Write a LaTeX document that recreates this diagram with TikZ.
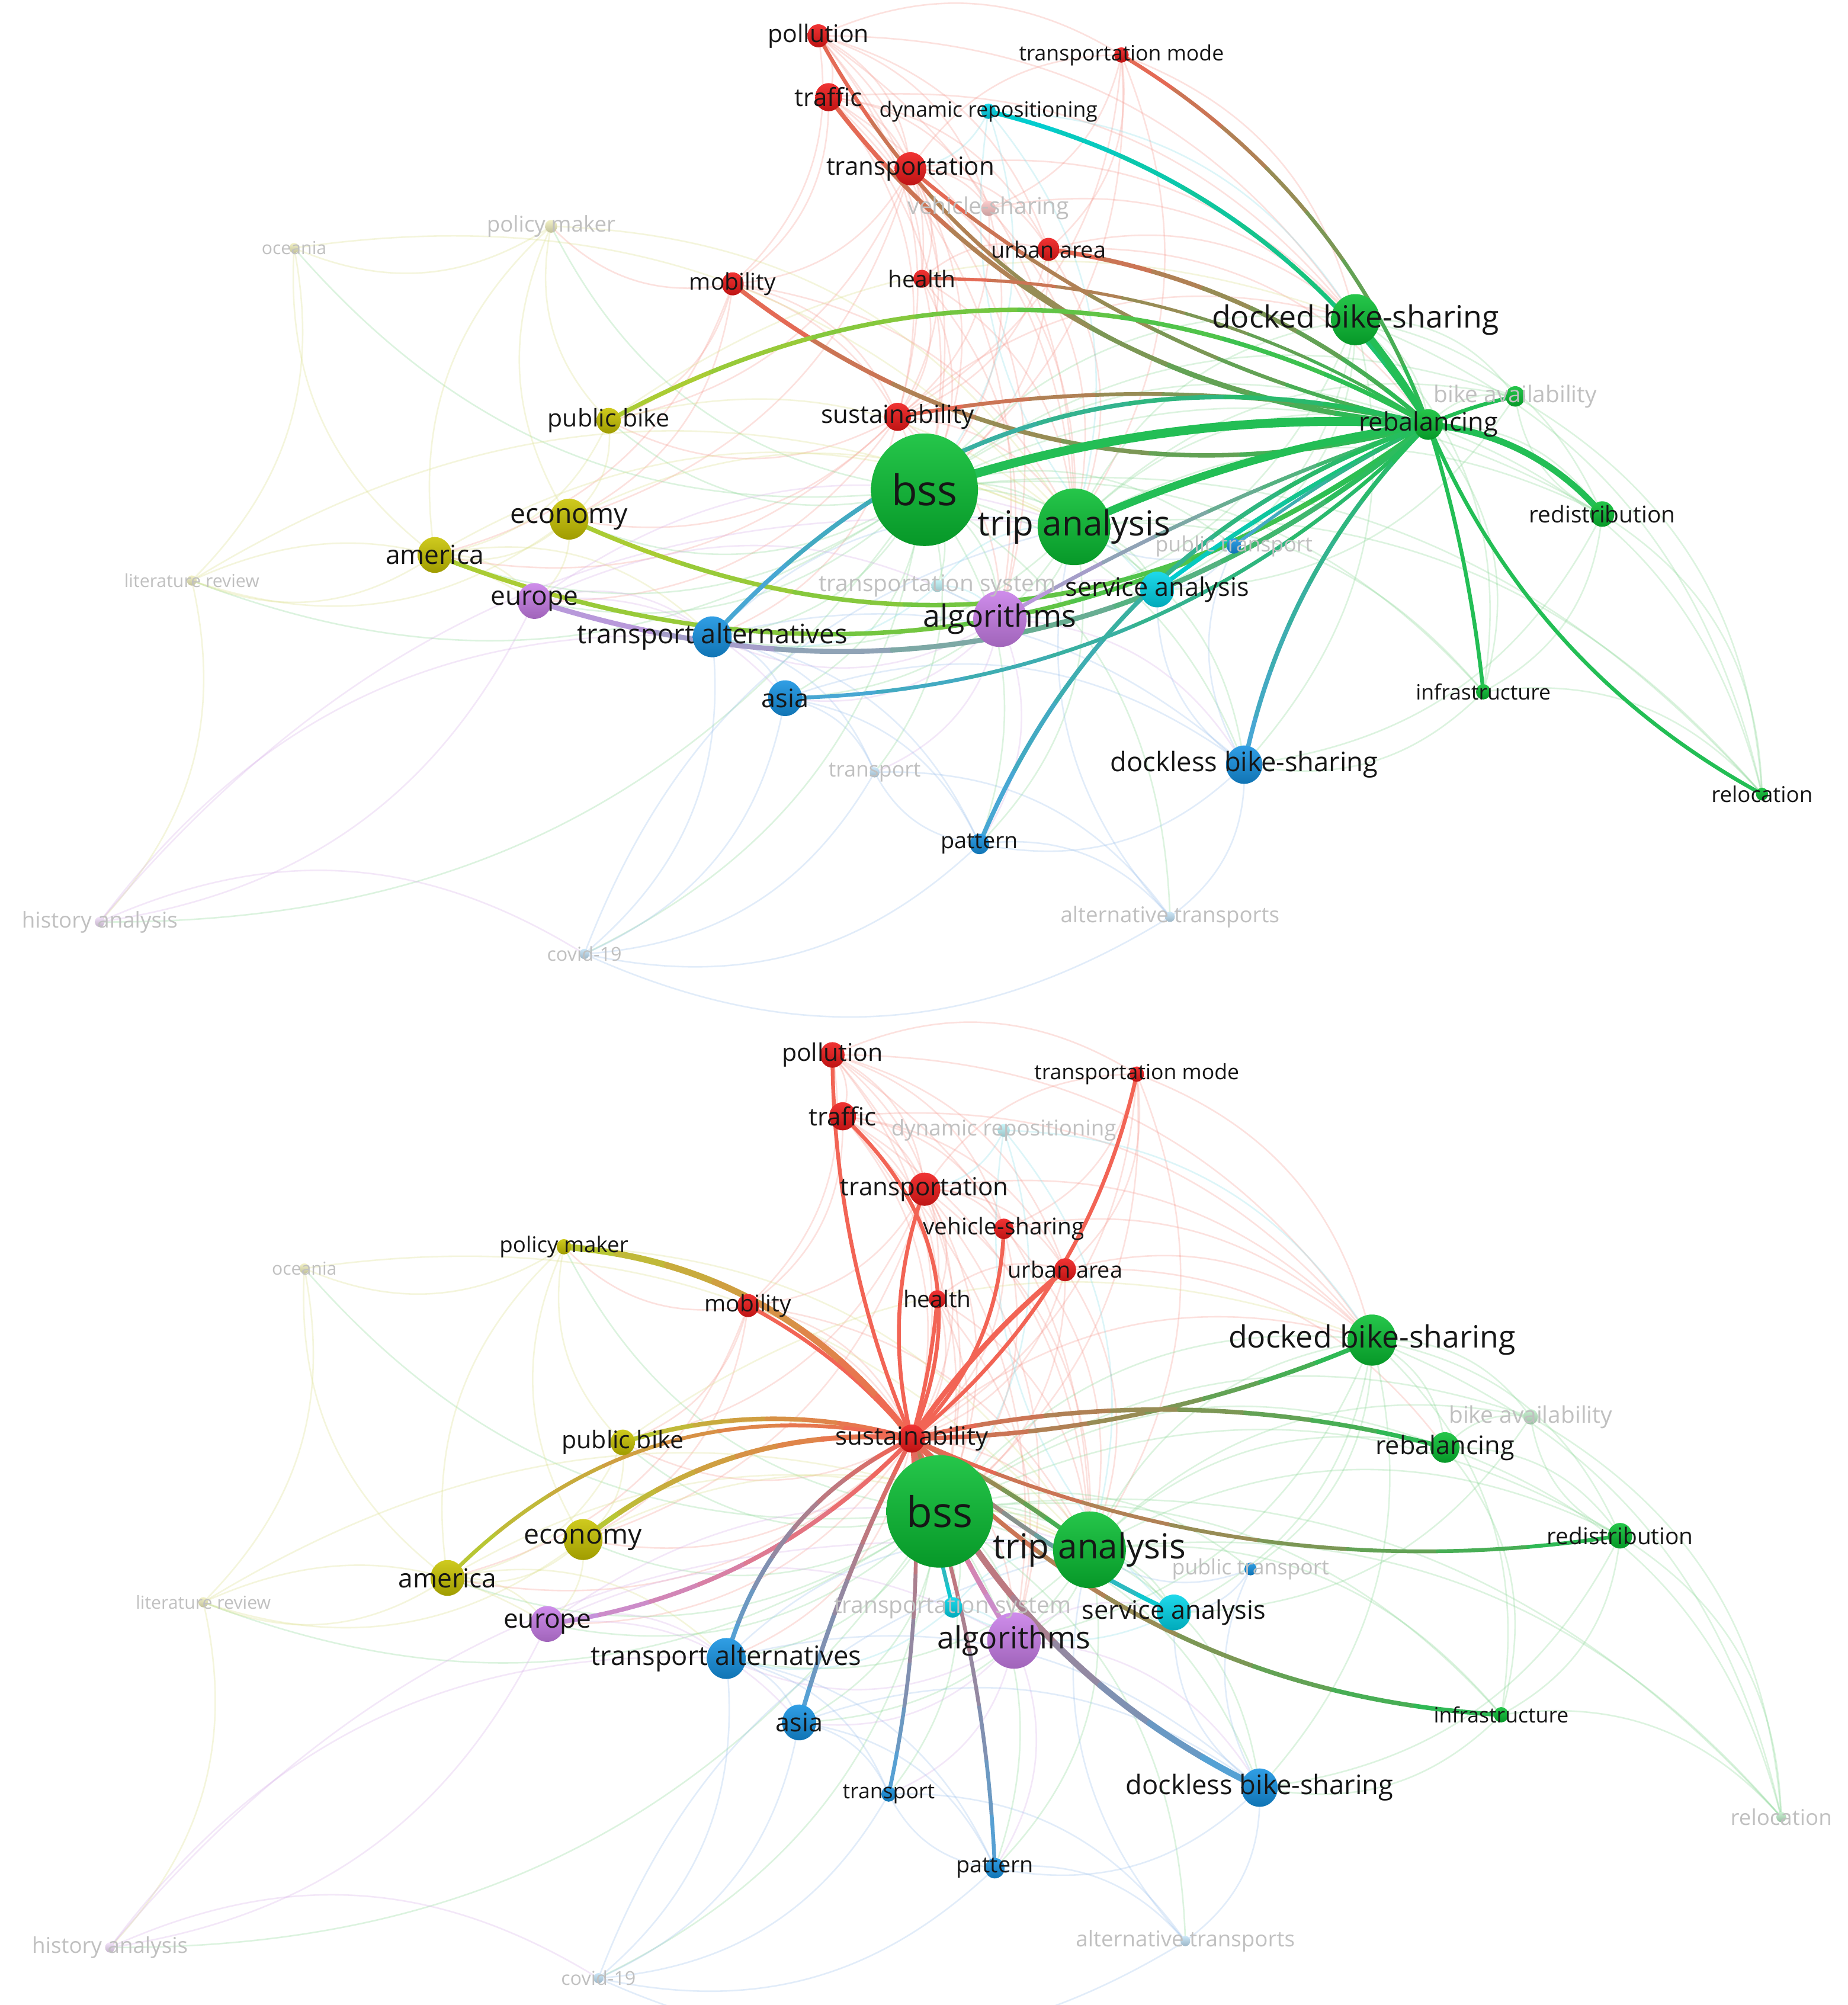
\documentclass[tikz,border=0pt]{standalone}
\usepackage{fontspec}
\setmainfont{Open Sans}
\usetikzlibrary{calc,shapes.geometric}
\pgfdeclarelayer{back}\pgfdeclarelayer{bg}\pgfdeclarelayer{fg}
\pgfsetlayers{back,bg,main,fg}
\definecolor{cR}{RGB}{238,24,24}
\definecolor{cG}{RGB}{8,190,50}
\definecolor{cB}{RGB}{20,145,225}
\definecolor{cY}{RGB}{200,195,0}
\definecolor{cP}{RGB}{200,125,232}
\definecolor{cC}{RGB}{0,212,232}
\definecolor{eR}{RGB}{242,100,85}
\definecolor{eG}{RGB}{35,190,85}
\definecolor{eB}{RGB}{75,165,220}
\definecolor{eY}{RGB}{180,205,50}
\definecolor{eP}{RGB}{195,150,228}
\definecolor{eC}{RGB}{0,205,215}
\definecolor{fR}{RGB}{245,140,130}
\definecolor{fG}{RGB}{120,210,135}
\definecolor{fB}{RGB}{140,185,235}
\definecolor{fY}{RGB}{215,220,120}
\definecolor{fP}{RGB}{210,165,230}
\definecolor{fC}{RGB}{120,220,230}
\definecolor{tk}{RGB}{22,22,22}
\definecolor{tg}{RGB}{192,192,192}
\tikzset{
  kwnode/.style={ellipse, inner sep=0pt, draw=none},
  kwlabel/.style={inner sep=0pt, anchor=center},
  fe/.style={line width=1.2pt, opacity=0.26},
}
\newcommand\kw[9]{%
  \node[kwnode, minimum width=1.9*#5pt, minimum height=2*#5pt, top color=#6!88!white, bottom color=#6!80!black] (#1-#2) at (#3,#4) {};
  \begin{pgfonlayer}{fg}
  \node[kwlabel, text=#9, font=\fontsize{#8}{#8}\selectfont] (#1-#2-l) at (#3,#4) {#7};
  \end{pgfonlayer}}
\newcommand\hedge[6]{%
  \coordinate (hA) at (#1.center);
  \coordinate (hB) at (#2.center);
  \coordinate (hC) at ($(hA)!0.5!(hB)!#3!90:(hB)$);
  \foreach \k in {0,...,7}{%
    \pgfmathsetmacro\ta{\k/8}%
    \pgfmathsetmacro\tb{(\k+1)/8}%
    \pgfmathsetmacro\aA{(1-\ta)*(1-\ta)}%
    \pgfmathsetmacro\aC{2*\ta*(1-\ta)}%
    \pgfmathsetmacro\aB{\ta*\ta}%
    \pgfmathsetmacro\qA{(1-\ta)*(1-\tb)}%
    \pgfmathsetmacro\qC{(1-\ta)*\tb+\ta*(1-\tb)}%
    \pgfmathsetmacro\qB{\ta*\tb}%
    \pgfmathsetmacro\bA{(1-\tb)*(1-\tb)}%
    \pgfmathsetmacro\bC{2*\tb*(1-\tb)}%
    \pgfmathsetmacro\bB{\tb*\tb}%
    \pgfmathtruncatemacro\pc{100-100*(\k+0.5)/8}%
    \coordinate (s0) at ($\aA*(hA)+\aC*(hC)+\aB*(hB)$);
    \coordinate (sq) at ($\qA*(hA)+\qC*(hC)+\qB*(hB)$);
    \coordinate (s1) at ($\bA*(hA)+\bC*(hC)+\bB*(hB)$);
    \draw[line width=#6pt, line cap=round, draw=#4!\pc!#5]
      (s0) .. controls ($(s0)!0.6667!(sq)$) and ($(s1)!0.6667!(sq)$) .. (s1);
  }}
\newcommand\faintedges[1]{%
  \foreach \a/\b/\c in {pol/tra/fR, pol/trn/fR, pol/sus/fR, pol/bss/fR, pol/mob/fR, pol/hea/fR, pol/urb/fR, pol/tmo/fR, pol/veh/fR, pol/tri/fR, pol/doc/fR,
    tra/trn/fR, tra/sus/fR, tra/bss/fR, tra/mob/fR, tra/hea/fR, tra/urb/fR, tra/veh/fR, tra/tri/fR, tra/alg/fR, tra/doc/fR,
    trn/sus/fR, trn/bss/fR, trn/mob/fR, trn/hea/fR, trn/urb/fR, trn/veh/fR, trn/tmo/fR, trn/tri/fR, trn/doc/fR, trn/pub/fR, trn/eco/fR, trn/alg/fR,
    tmo/sus/fR, tmo/bss/fR, tmo/urb/fR, tmo/doc/fR, tmo/veh/fR, tmo/tri/fR,
    mob/sus/fR, mob/bss/fR, mob/pm/fR, mob/pub/fR, mob/eco/fR, mob/ame/fR, mob/tri/fR,
    hea/sus/fR, hea/bss/fR, hea/urb/fR, hea/tri/fR, hea/alg/fR, urb/sus/fR, urb/bss/fR, urb/doc/fR, urb/tri/fR, urb/reb/fR,
    veh/bss/fR, veh/sus/fR, veh/doc/fR, veh/tri/fR, sus/bss/fR, sus/tri/fR, sus/alg/fR, sus/eco/fR, sus/pub/fR, sus/tal/fR, sus/doc/fR, sus/ame/fR, sus/eur/fR,
    bss/tri/fG, bss/doc/fG, bss/reb/fG, bss/alg/fG, bss/tal/fG, bss/eco/fG, bss/ame/fG, bss/eur/fG, bss/asi/fG, bss/dls/fG, bss/pat/fG, bss/ser/fG, bss/red/fG,
    bss/inf/fG, bss/pub/fG, bss/lit/fG, bss/oce/fG, bss/his/fG, bss/cov/fG, bss/tsp/fG, bss/alt/fG, bss/ptr/fG, bss/tsy/fG, bss/bav/fG, bss/rel/fG, bss/pm/fG,
    tri/doc/fG, tri/alg/fG, tri/dls/fG, tri/ser/fG, tri/red/fG, tri/bav/fG, tri/inf/fG, tri/pat/fG, tri/asi/fG, tri/tal/fG, tri/reb/fG, tri/rel/fG,
    doc/reb/fG, doc/red/fG, doc/bav/fG, doc/alg/fG, doc/dls/fG, doc/ser/fG, doc/inf/fG, doc/rel/fG, doc/ptr/fG,
    reb/red/fG, reb/bav/fG, reb/inf/fG, reb/rel/fG, red/inf/fG, red/bav/fG, red/rel/fG, red/dls/fG, inf/rel/fG, inf/dls/fG, bav/rel/fG, bav/ser/fG,
    pub/eco/fY, pub/ame/fY, pub/pm/fY, pub/tri/fY, pub/doc/fY, eco/ame/fY, eco/tri/fY, eco/pm/fY, eco/lit/fY, eco/eur/fY,
    ame/eur/fY, ame/pm/fY, ame/lit/fY, ame/oce/fY, ame/tri/fY, ame/tal/fY, pm/oce/fY, pm/tri/fY, oce/tri/fY, oce/lit/fY, lit/tri/fY, lit/eur/fY, lit/his/fY,
    eur/tal/fP, eur/alg/fP, eur/tri/fP, eur/his/fP, eur/asi/fP, alg/tal/fP, alg/dls/fP, alg/ser/fP, alg/pat/fP, alg/asi/fP, alg/tsp/fP, his/tal/fP, his/tri/fP, his/cov/fP,
    tal/asi/fB, tal/tri/fB, tal/dls/fB, tal/pat/fB, tal/tsp/fB, tal/cov/fB, asi/dls/fB, asi/pat/fB, asi/tsp/fB, asi/cov/fB, dls/ser/fB, dls/pat/fB, dls/alt/fB,
    dls/ptr/fB, pat/tsp/fB, pat/alt/fB, pat/cov/fB, tsp/cov/fB, tsp/alt/fB, alt/tri/fB, alt/cov/fB, cov/tri/fB, ptr/tri/fB, ptr/ser/fB,
    ser/tsy/fC, ser/dyn/fC, dyn/trn/fC, dyn/tri/fC, dyn/bss/fC, dyn/doc/fC, tsy/tri/fC, tsy/alg/fC, tsy/tal/fC}{%
    \draw[fe, draw=\c] (#1-\a.center) to[bend left=28] (#1-\b.center);
  }}
\begin{document}
\begin{tikzpicture}[x=1pt,y=-1pt]
\useasboundingbox (0,0) rectangle (1445,1568);
\begin{pgfonlayer}{back}
\fill[white] (0,0) rectangle (1445,1568);
\end{pgfonlayer}
% ---------------- top panel ----------------
\kw{T}{pol}{640}{28}{9}{cR}{pollution}{19}{tk}
\kw{T}{tra}{648}{76}{11}{cR}{traffic}{19.5}{tk}
\kw{T}{tmo}{877}{43}{6}{cR}{transportation mode}{16.5}{tk}
\kw{T}{dyn}{773}{87}{6}{cC}{dynamic repositioning}{16.5}{tk}
\kw{T}{trn}{712}{132}{13}{cR}{transportation}{19.5}{tk}
\kw{T}{veh}{773}{163}{6}{cR!25!white}{vehicle-sharing}{18}{tg}
\kw{T}{pm}{431}{177}{5}{cY!25!white}{policy maker}{17}{tg}
\kw{T}{oce}{230}{194}{4}{cY!25!white}{oceania}{14}{tg}
\kw{T}{urb}{820}{195}{9}{cR}{urban area}{17.5}{tk}
\kw{T}{hea}{721}{218}{7}{cR}{health}{18}{tk}
\kw{T}{mob}{573}{222}{9}{cR}{mobility}{18}{tk}
\kw{T}{doc}{1060}{250}{20}{cG}{docked bike-sharing}{24}{tk}
\kw{T}{bav}{1185}{310}{8}{cG}{bike availability}{18}{tg}
\kw{T}{reb}{1117}{332}{12}{cG}{rebalancing}{20}{tk}
\kw{T}{pub}{476}{329}{10}{cY}{public bike}{19}{tk}
\kw{T}{sus}{702}{326}{11}{cR}{sustainability}{19.5}{tk}
\kw{T}{bss}{723}{383}{44}{cG}{bss}{33}{tk}
\kw{T}{red}{1253}{402}{10}{cG}{redistribution}{18}{tk}
\kw{T}{eco}{445}{406}{16}{cY}{economy}{21.5}{tk}
\kw{T}{tri}{840}{412}{30}{cG}{trip analysis}{27}{tk}
\kw{T}{ame}{340}{434}{14}{cY}{america}{20.5}{tk}
\kw{T}{lit}{150}{454}{4}{cY!25!white}{literature review}{14}{tg}
\kw{T}{ptr}{965}{427}{6}{cB}{public transport}{16.5}{tg}
\kw{T}{tsy}{733}{458}{5}{cC!25!white}{transportation system}{18}{tg}
\kw{T}{ser}{905}{461}{14}{cC}{service analysis}{20}{tk}
\kw{T}{eur}{418}{470}{14}{cP}{europe}{20.5}{tk}
\kw{T}{alg}{782}{484}{22}{cP}{algorithms}{24}{tk}
\kw{T}{tal}{557}{498}{16}{cB}{transport alternatives}{21}{tk}
\kw{T}{inf}{1160}{541}{6}{cG}{infrastructure}{16.5}{tk}
\kw{T}{asi}{614}{546}{14}{cB}{asia}{20}{tk}
\kw{T}{dls}{973}{598}{15}{cB}{dockless bike-sharing}{21}{tk}
\kw{T}{tsp}{684}{604}{4}{cB!25!white}{transport}{16.5}{tg}
\kw{T}{rel}{1378}{621}{5}{cG}{relocation}{17}{tk}
\kw{T}{pat}{766}{660}{8}{cB}{pattern}{17.5}{tk}
\kw{T}{alt}{915}{717}{4}{cB!25!white}{alternative transports}{17}{tg}
\kw{T}{his}{78}{721}{4}{cP!25!white}{history analysis}{17}{tg}
\kw{T}{cov}{457}{746}{4}{cB!25!white}{covid-19}{15}{tg}
% ---------------- bottom panel ----------------
\kw{B}{pol}{651}{825}{10}{cR}{pollution}{19}{tk}
\kw{B}{tra}{659}{873}{11}{cR}{traffic}{19.5}{tk}
\kw{B}{tmo}{889}{840}{6}{cR}{transportation mode}{16.5}{tk}
\kw{B}{dyn}{785}{884}{5}{cC!25!white}{dynamic repositioning}{17}{tg}
\kw{B}{trn}{723}{930}{13}{cR}{transportation}{19.5}{tk}
\kw{B}{veh}{785}{961}{8}{cR}{vehicle-sharing}{18}{tk}
\kw{B}{pm}{441}{975}{6}{cY}{policy maker}{17}{tk}
\kw{B}{oce}{238}{992}{4}{cY!25!white}{oceania}{14}{tg}
\kw{B}{urb}{833}{993}{9}{cR}{urban area}{17.5}{tk}
\kw{B}{hea}{733}{1016}{7}{cR}{health}{18}{tk}
\kw{B}{mob}{585}{1021}{9}{cR}{mobility}{18}{tk}
\kw{B}{doc}{1073}{1048}{20}{cG}{docked bike-sharing}{24}{tk}
\kw{B}{bav}{1197}{1108}{6}{cG!25!white}{bike availability}{18}{tg}
\kw{B}{reb}{1130}{1132}{12}{cG}{rebalancing}{20}{tk}
\kw{B}{pub}{487}{1128}{10}{cY}{public bike}{19}{tk}
\kw{B}{sus}{713}{1125}{11}{cR}{sustainability}{19.5}{tk}
\kw{B}{bss}{735}{1182}{44}{cG}{bss}{33}{tk}
\kw{B}{red}{1267}{1201}{10}{cG}{redistribution}{18}{tk}
\kw{B}{eco}{456}{1204}{16}{cY}{economy}{21.5}{tk}
\kw{B}{tri}{852}{1212}{30}{cG}{trip analysis}{27}{tk}
\kw{B}{ame}{350}{1234}{14}{cY}{america}{20.5}{tk}
\kw{B}{lit}{159}{1253}{4}{cY!25!white}{literature review}{14}{tg}
\kw{B}{ptr}{978}{1227}{5}{cB}{public transport}{16.5}{tg}
\kw{B}{tsy}{745}{1257}{8}{cC}{transportation system}{18}{tg}
\kw{B}{ser}{918}{1261}{14}{cC}{service analysis}{20}{tk}
\kw{B}{eur}{428}{1270}{14}{cP}{europe}{20.5}{tk}
\kw{B}{alg}{793}{1283}{22}{cP}{algorithms}{24}{tk}
\kw{B}{tal}{568}{1297}{16}{cB}{transport alternatives}{21}{tk}
\kw{B}{inf}{1174}{1341}{6}{cG}{infrastructure}{16.5}{tk}
\kw{B}{asi}{625}{1347}{14}{cB}{asia}{20}{tk}
\kw{B}{dls}{985}{1398}{15}{cB}{dockless bike-sharing}{21}{tk}
\kw{B}{tsp}{695}{1403}{6}{cB}{transport}{16.5}{tk}
\kw{B}{rel}{1393}{1421}{4}{cG!25!white}{relocation}{17}{tg}
\kw{B}{pat}{778}{1461}{8}{cB}{pattern}{17.5}{tk}
\kw{B}{alt}{927}{1518}{4}{cB!25!white}{alternative transports}{17}{tg}
\kw{B}{his}{86}{1523}{4}{cP!25!white}{history analysis}{17}{tg}
\kw{B}{cov}{468}{1547}{4}{cB!25!white}{covid-19}{15}{tg}
% ---------------- faint network ----------------
\begin{pgfonlayer}{back}
\faintedges{T}
\faintedges{B}
\end{pgfonlayer}
% ---------------- highlighted links ----------------
\begin{pgfonlayer}{bg}
\hedge{T-tmo}{T-reb}{0.35}{eR}{eG}{3}
\hedge{T-dyn}{T-reb}{0.4}{eC}{eG}{3.5}
\hedge{T-pol}{T-reb}{-0.55}{eR}{eG}{3}
\hedge{T-tra}{T-reb}{-0.45}{eR}{eG}{3.5}
\hedge{T-trn}{T-reb}{-0.25}{eR}{eG}{3}
\hedge{T-urb}{T-reb}{0.3}{eR}{eG}{3.5}
\hedge{T-hea}{T-reb}{0.3}{eR}{eG}{2.5}
\hedge{T-mob}{T-reb}{-0.5}{eR}{eG}{3.5}
\hedge{T-sus}{T-reb}{0.2}{eR}{eG}{3}
\hedge{T-pub}{T-reb}{0.55}{eY}{eG}{3.5}
\hedge{T-doc}{T-reb}{0.1}{eG}{eG}{5}
\hedge{T-bss}{T-reb}{0.2}{eG}{eG}{7}
\hedge{T-tri}{T-reb}{0.15}{eG}{eG}{6}
\hedge{T-eco}{T-reb}{-0.6}{eY}{eG}{3.5}
\hedge{T-ame}{T-reb}{-0.55}{eY}{eG}{3.5}
\hedge{T-eur}{T-reb}{-0.55}{eP}{eG}{4}
\hedge{T-tal}{T-reb}{0.6}{eB}{eG}{3.5}
\hedge{T-asi}{T-reb}{-0.4}{eB}{eG}{3}
\hedge{T-alg}{T-reb}{0.1}{eP}{eG}{3}
\hedge{T-ser}{T-reb}{0.1}{eC}{eG}{3.5}
\hedge{T-ptr}{T-reb}{0.1}{eB}{eG}{2.5}
\hedge{T-dls}{T-reb}{0.3}{eB}{eG}{3.5}
\hedge{T-pat}{T-reb}{0.45}{eB}{eG}{3.5}
\hedge{T-reb}{T-red}{0.4}{eG}{eG}{5}
\hedge{T-reb}{T-bav}{0.1}{eG}{eG}{3}
\hedge{T-reb}{T-inf}{0.1}{eG}{eG}{3}
\hedge{T-reb}{T-rel}{-0.35}{eG}{eG}{3}
%
\hedge{B-pol}{B-sus}{-0.2}{eR}{eR}{3}
\hedge{B-tra}{B-sus}{0.7}{eR}{eR}{3}
\hedge{B-trn}{B-sus}{-0.3}{eR}{eR}{3}
\hedge{B-veh}{B-sus}{0.4}{eR}{eR}{3}
\hedge{B-urb}{B-sus}{-0.15}{eR}{eR}{4}
\hedge{B-hea}{B-sus}{0.1}{eR}{eR}{3}
\hedge{B-mob}{B-sus}{0.2}{eR}{eR}{3}
\hedge{B-tmo}{B-sus}{0.35}{eR}{eR}{3}
\hedge{B-pm}{B-sus}{0.45}{eY}{eR}{5}
\hedge{B-pub}{B-sus}{0.3}{eY}{eR}{3.5}
\hedge{B-eco}{B-sus}{0.4}{eY}{eR}{4}
\hedge{B-ame}{B-sus}{0.55}{eY}{eR}{3}
\hedge{B-eur}{B-sus}{-0.35}{eP}{eR}{3.5}
\hedge{B-tal}{B-sus}{0.45}{eB}{eR}{3.5}
\hedge{B-asi}{B-sus}{0.1}{eB}{eR}{3.5}
\hedge{B-tsp}{B-sus}{-0.15}{eB}{eR}{3}
\hedge{B-pat}{B-sus}{-0.15}{eB}{eR}{3}
\hedge{B-alg}{B-sus}{0.1}{eP}{eR}{4}
\hedge{B-sus}{B-dls}{-0.35}{eR}{eB}{5}
\hedge{B-sus}{B-bss}{0}{eR}{eG}{5}
\hedge{B-sus}{B-tri}{0.1}{eR}{eG}{3.5}
\hedge{B-sus}{B-ser}{-0.15}{eR}{eC}{3.5}
\hedge{B-sus}{B-tsy}{0}{eR}{eC}{3}
\hedge{B-sus}{B-doc}{-0.2}{eR}{eG}{3.5}
\hedge{B-sus}{B-reb}{0.25}{eR}{eG}{3.5}
\hedge{B-sus}{B-red}{-0.3}{eR}{eG}{3}
\hedge{B-sus}{B-inf}{-0.4}{eR}{eG}{3.5}
\end{pgfonlayer}
\end{tikzpicture}
\end{document}
